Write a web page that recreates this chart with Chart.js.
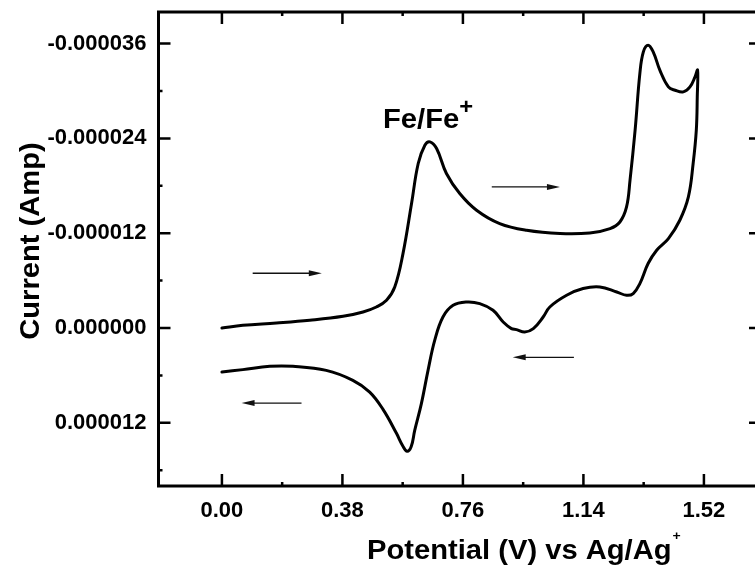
<!DOCTYPE html>
<html>
<head>
<meta charset="utf-8">
<script src="https://cdn.jsdelivr.net/npm/chart.js@4.4.0/dist/chart.umd.min.js"></script>
<style>
  html, body { margin: 0; padding: 0; background: #fff; overflow: hidden; }
  #wrap { width: 755px; height: 567px; overflow: hidden; }
</style>
</head>
<body>
<div id="wrap"><canvas id="cv" width="770" height="567"></canvas></div>
<script>
// forward sweep 0 -> 1.50 V (potential in V, current in microamps)
const forwardV = [0.00, 0.066, 0.172, 0.277, 0.382, 0.445, 0.487, 0.519, 0.545, 0.571,
  0.598, 0.619, 0.640, 0.656, 0.677, 0.708, 0.750, 0.803, 0.876, 0.961,
  1.066, 1.160, 1.224, 1.255, 1.276, 1.287, 1.303, 1.318, 1.329, 1.344,
  1.360, 1.381, 1.408, 1.429, 1.455, 1.476, 1.492, 1.500];
const forwardI = [0.0, -0.34, -0.63, -0.98, -1.48, -2.03, -2.66, -3.51, -5.19, -9.42,
  -15.76, -20.82, -23.14, -23.56, -22.72, -19.56, -17.02, -14.91, -13.22, -12.37,
  -11.96, -12.03, -12.59, -13.42, -15.32, -18.71, -25.04, -32.22, -34.96, -35.80,
  -34.96, -32.64, -30.52, -30.10, -29.89, -30.52, -31.79, -32.64];
// reverse sweep 1.50 -> 0 V
const reverseV = [1.499, 1.496, 1.486, 1.471, 1.444, 1.408, 1.371, 1.344, 1.318, 1.297,
  1.276, 1.245, 1.192, 1.139, 1.087, 1.034, 1.013, 0.982, 0.955, 0.929,
  0.913, 0.887, 0.855, 0.813, 0.771, 0.729, 0.697, 0.671, 0.650, 0.629,
  0.608, 0.597, 0.584, 0.570, 0.550, 0.508, 0.466, 0.413, 0.329,
  0.224, 0.151, 0.066, 0.00];
const reverseI = [-29.26, -25.04, -20.82, -16.59, -13.64, -11.32, -9.84, -8.16, -5.62, -4.36,
  -4.14, -4.56, -5.19, -4.99, -4.14, -2.66, -1.39, 0.08, 0.51, 0.20,
  0.08, -0.76, -2.24, -3.09, -3.29, -2.87, -1.39, 1.56, 5.36, 9.57,
  12.96, 15.00, 15.60, 14.90, 13.30, 10.30, 8.11, 6.62, 5.36,
  4.85, 4.85, 5.27, 5.57];

const xTicks = [0, 0.19, 0.38, 0.57, 0.76, 0.95, 1.14, 1.33, 1.52];
const xTickLabels = ["0.00", "", "0.38", "", "0.76", "", "1.14", "", "1.52"];
const yTicks = [-36, -30, -24, -18, -12, -6, 0, 6, 12, 18];
const yTickLabels = ["-0.000036", "", "-0.000024", "", "-0.000012", "", "0.000000", "", "0.000012", ""];

// sweep direction arrows: [from V, to V, current uA]
const arrows = [[0.097, 0.315, -6.93], [0.851, 1.066, -17.86], [0.251, 0.062, 9.50], [1.110, 0.917, 3.71]];

const points = forwardV.map((v, i) => ({ x: v, y: forwardI[i] }))
  .concat(reverseV.map((v, i) => ({ x: v, y: reverseI[i] })));

const FONT = "'Liberation Sans', Arial, sans-serif";
const tickFont = { family: FONT, size: 22, weight: "bold" };

function stretchedText(ctx, txt, x, y, size, rot) {
  ctx.save();
  ctx.translate(x, y);
  if (rot) ctx.rotate(rot);
  ctx.scale(1.08, 1);
  ctx.font = "bold " + size + "px " + FONT;
  ctx.fillText(txt, 0, 0);
  const w = ctx.measureText(txt).width * 1.08;
  ctx.restore();
  return w;
}

function noPad(s) {
  s.paddingTop = 0; s.paddingBottom = 0; s.paddingLeft = 0; s.paddingRight = 0;
}

const frame = {
  id: "frame",
  afterDraw(chart) {
    const { ctx, chartArea: a, scales } = chart;
    const sx = scales.x, sy = scales.y;
    ctx.save();
    ctx.strokeStyle = "#000";
    ctx.fillStyle = "#000";
    ctx.lineWidth = 3;
    ctx.strokeRect(a.left, a.top, a.right - a.left, a.bottom - a.top);

    // inward ticks on all four sides
    ctx.lineWidth = 2.5;
    ctx.beginPath();
    sx.ticks.forEach((t, i) => {
      const px = sx.getPixelForValue(t.value);
      const len = i % 2 === 0 ? 12 : 4;
      ctx.moveTo(px, a.bottom); ctx.lineTo(px, a.bottom - len);
      ctx.moveTo(px, a.top); ctx.lineTo(px, a.top + len);
    });
    sy.ticks.forEach((t, i) => {
      const py = sy.getPixelForValue(t.value);
      const len = i % 2 === 0 ? 12 : 4;
      ctx.moveTo(a.left, py); ctx.lineTo(a.left + len, py);
      ctx.moveTo(a.right, py); ctx.lineTo(a.right - len, py);
    });
    ctx.stroke();

    // arrows
    ctx.lineWidth = 1.3;
    ctx.strokeStyle = "#111";
    ctx.fillStyle = "#111";
    arrows.forEach(([v1, v2, c]) => {
      const x1 = sx.getPixelForValue(v1), x2 = sx.getPixelForValue(v2), y = sy.getPixelForValue(c);
      const dir = x2 > x1 ? 1 : -1;
      ctx.beginPath();
      ctx.moveTo(x1, y); ctx.lineTo(x2 - dir * 10, y);
      ctx.stroke();
      ctx.beginPath();
      ctx.moveTo(x2, y);
      ctx.lineTo(x2 - dir * 13, y - 3);
      ctx.lineTo(x2 - dir * 13, y + 3);
      ctx.closePath();
      ctx.fill();
    });

    // texts
    ctx.fillStyle = "#000";
    ctx.textBaseline = "alphabetic";
    ctx.textAlign = "left";
    const fx = sx.getPixelForValue(0.508), fy = sy.getPixelForValue(-25.33);
    const fw = stretchedText(ctx, "Fe/Fe", fx, fy, 27);
    stretchedText(ctx, "+", fx + fw, fy - 14, 22);

    const tw = stretchedText(ctx, "Potential (V) vs Ag/Ag", 367, 559, 27);
    stretchedText(ctx, "+", 367 + tw + 1, 540, 13);

    ctx.textAlign = "center";
    stretchedText(ctx, "Current (Amp)", 39, 241, 27, -Math.PI / 2);
    ctx.restore();
  }
};

new Chart(document.getElementById("cv"), {
  type: "scatter",
  data: {
    datasets: [{
      data: points,
      showLine: true,
      borderColor: "#000",
      borderWidth: 3,
      tension: 0.4,
      pointRadius: 0,
      borderCapStyle: "round",
      borderJoinStyle: "round",
      fill: false
    }]
  },
  options: {
    responsive: false,
    animation: false,
    layout: { padding: { top: 12, right: 9, left: 0, bottom: 0 } },
    plugins: { legend: { display: false }, tooltip: { enabled: false } },
    scales: {
      x: {
        type: "linear",
        min: -0.2,
        max: 1.7,
        afterBuildTicks: (s) => { s.ticks = xTicks.map((v) => ({ value: v })); },
        afterFit: (s) => { s.height = 81; noPad(s); },
        grid: { display: false, drawTicks: false },
        border: { display: false },
        ticks: {
          autoSkip: false, maxRotation: 0, padding: 12, color: "#000", font: tickFont,
          callback: (v, i) => xTickLabels[i]
        }
      },
      y: {
        type: "linear",
        min: -40,
        max: 20,
        reverse: true,
        afterBuildTicks: (s) => { s.ticks = yTicks.map((v) => ({ value: v })); },
        afterFit: (s) => { s.width = 158.5; noPad(s); },
        grid: { display: false, drawTicks: false },
        border: { display: false },
        ticks: {
          autoSkip: false, padding: 12, color: "#000", font: tickFont,
          callback: (v, i) => yTickLabels[i]
        }
      }
    }
  },
  plugins: [frame]
});
</script>
</body>
</html>
